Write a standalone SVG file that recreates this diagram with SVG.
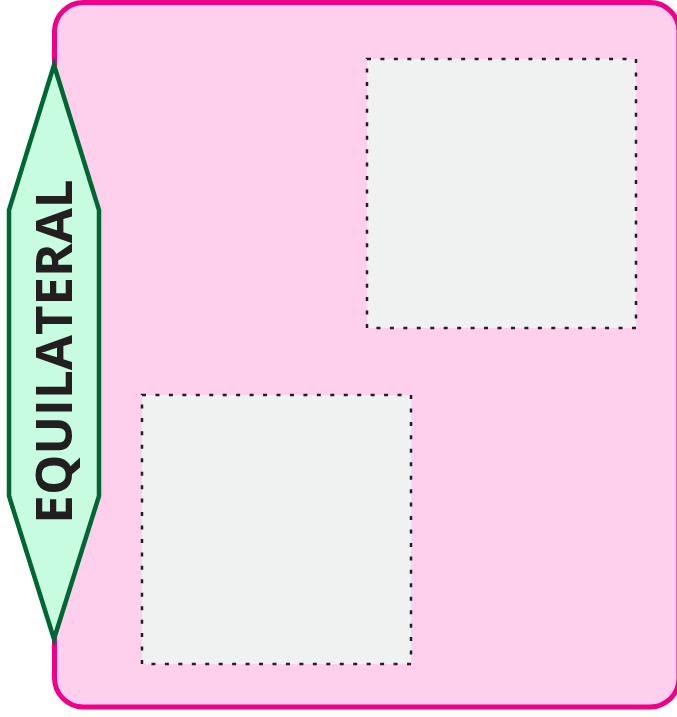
<svg xmlns="http://www.w3.org/2000/svg" width="677" height="717" viewBox="0 0 677 717">
  <style>
    .frame { fill: #ffd0ee; stroke: #ee0088; stroke-width: 5; }
    .box { fill: #f0f2f2; stroke: #231f20; stroke-width: 2.5; stroke-dasharray: 4 9.45; }
    .hex { fill: #c8fce0; stroke: #006633; stroke-width: 4.5; stroke-linejoin: miter; }
    .label { font-family: "Open Sans", "Liberation Sans", sans-serif; font-weight: 700; font-size: 51px; fill: #231f20; }
  </style>
  <g id="frame">
    <rect class="frame" x="54.5" y="2.5" width="624.5" height="704.5" rx="29" ry="29"/>
  </g>
  <g id="box-top-right">
    <rect class="box" x="367" y="59" width="269" height="269"/>
  </g>
  <g id="box-bottom-left">
    <rect class="box" x="142" y="395" width="269" height="269"/>
  </g>
  <g id="equilateral">
    <polygon class="hex" points="54,65 99,210 99,496 54,639 9,496 9,210"/>
    <text class="label" text-anchor="middle" transform="translate(71.5,351.5) rotate(-90)">EQUILATERAL</text>
  </g>
  <g id="connectors"/>
</svg>
